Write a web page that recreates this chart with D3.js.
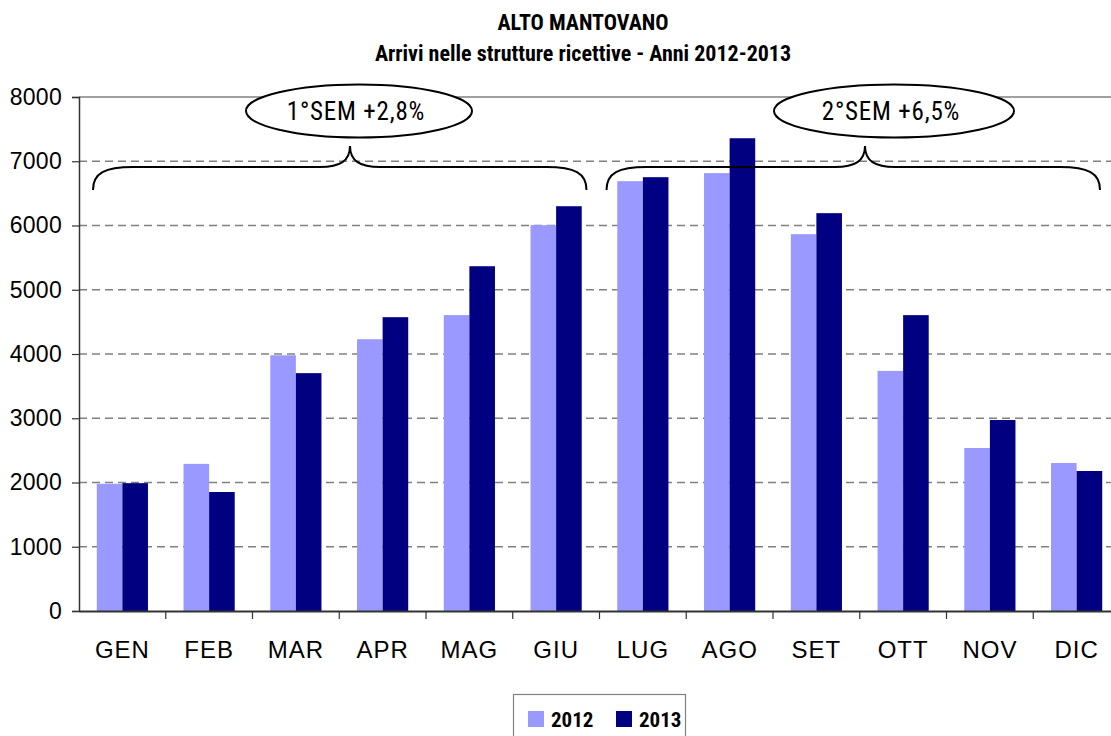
<!DOCTYPE html>
<html><head><meta charset="utf-8">
<script src="https://cdn.jsdelivr.net/npm/d3@7/dist/d3.min.js"></script>
<style>
html,body{margin:0;padding:0;background:#fff;overflow:hidden;}
svg{display:block;font-family:"Liberation Sans Narrow","Arial Narrow","Roboto Condensed","DejaVu Sans Condensed",sans-serif;}
</style></head><body>
<svg id="c" width="1111" height="736"></svg>
<script>
const months = ["GEN","FEB","MAR","APR","MAG","GIU","LUG","AGO","SET","OTT","NOV","DIC"];
const series = ["2012","2013"];
const values2012 = [1980,2290,3980,4230,4605,6005,6690,6815,5865,3737,2537,2303];
const values2013 = [1990,1852,3702,4573,5366,6300,6752,7358,6192,4605,2973,2179];
const yTicks = [0,1000,2000,3000,4000,5000,6000,7000,8000];
const titleLines = ["ALTO MANTOVANO","Arrivi nelle strutture ricettive - Anni 2012-2013"];
const semesters = [
  {label:"1°SEM +2,8%", from:"GEN", to:"GIU"},
  {label:"2°SEM +6,5%", from:"LUG", to:"DIC"}
];
const colors = {"2012":"#9999FF","2013":"#000080"};

const svg = d3.select("#c");
const L = 79, R = 1120, T = 97, B = 611;
const x = d3.scaleBand().domain(months).range([L,R]).paddingInner(0).paddingOuter(0);
const bw = x.bandwidth();
const groupW = bw*0.59;
const xs = d3.scaleBand().domain(series).range([(bw-groupW)/2,(bw+groupW)/2]);
const y = d3.scaleLinear().domain([0,8000]).range([B,T]);

// gridlines
svg.append("g").selectAll("line").data(yTicks.filter(d=>d>0 && d<8000)).join("line")
  .attr("x1",L).attr("x2",R).attr("y1",d=>y(d)).attr("y2",d=>y(d))
  .attr("stroke","#808080").attr("stroke-width",1.5).attr("stroke-dasharray","8,5");
// top border
svg.append("line").attr("x1",L).attr("x2",R).attr("y1",y(8000)).attr("y2",y(8000))
  .attr("stroke","#808080").attr("stroke-width",1.5);

// bars
const data = months.map((m,i)=>({m, v:{"2012":values2012[i],"2013":values2013[i]}}));
const g = svg.append("g").selectAll("g").data(data).join("g")
  .attr("transform",d=>`translate(${x(d.m)},0)`);
g.selectAll("rect").data(d=>series.map(s=>({s,v:d.v[s]}))).join("rect")
  .attr("x",d=>xs(d.s)).attr("width",xs.bandwidth())
  .attr("y",d=>y(d.v)).attr("height",d=>B-y(d.v))
  .attr("fill",d=>colors[d.s]);

// y axis
const yAxis = d3.axisLeft(y).tickValues(yTicks).tickSize(7).tickPadding(10).tickFormat(d3.format("d"));
const ya = svg.append("g").attr("transform",`translate(${L},0)`).call(yAxis);
ya.select(".domain").attr("stroke","#333").attr("stroke-width",1.5);
ya.selectAll(".tick line").attr("stroke","#333").attr("stroke-width",1.2);
ya.selectAll("text").attr("font-size",23).attr("fill","#000").attr("font-family","inherit").attr("letter-spacing","0.3");

// x axis
const xa = svg.append("g").attr("transform",`translate(0,${B})`)
  .call(d3.axisBottom(x).tickSize(0).tickPadding(0));
xa.select(".domain").attr("stroke","#333").attr("stroke-width",2);
xa.selectAll(".tick text").attr("font-size",24).attr("fill","#000").attr("font-family","inherit")
  .attr("letter-spacing","1").attr("dy",0).attr("y",47);
svg.append("g").selectAll("line").data(months).join("line")
  .attr("x1",d=>x(d)+bw).attr("x2",d=>x(d)+bw).attr("y1",B).attr("y2",B+8)
  .attr("stroke","#333").attr("stroke-width",1.2);

// title
svg.append("g").selectAll("text").data(titleLines).join("text")
  .attr("x",583).attr("y",(d,i)=>i===0?30:61).attr("text-anchor","middle")
  .attr("font-size",22).attr("font-weight","bold").text(d=>d);

// semester annotations
semesters.forEach((s,i)=>{
  const x0 = i===0 ? x(s.from)+14 : x(s.from)+7;
  const x1 = i===0 ? x(s.to)+bw-13 : x(s.to)+bw-20;
  const xm = i===0 ? 350 : 865;
  const cx = i===0 ? 359 : 894;
  const rx = i===0 ? 113 : 120;
  const yb = 190, yf = 167, ya2 = 146;
  const p = `M${x0},${yb} C${x0},${yf+6} ${x0+12},${yf} ${x0+40},${yf} L${xm-30},${yf} C${xm-10},${yf} ${xm},${yf-6} ${xm},${ya2} C${xm},${yf-6} ${xm+10},${yf} ${xm+30},${yf} L${x1-40},${yf} C${x1-12},${yf} ${x1},${yf+6} ${x1},${yb}`;
  svg.append("path").attr("d",p).attr("fill","none").attr("stroke","#000").attr("stroke-width",2);
  svg.append("ellipse").attr("cx",cx).attr("cy",111).attr("rx",rx).attr("ry",26.5)
    .attr("fill","#fff").attr("stroke","#000").attr("stroke-width",2);
  svg.append("text").attr("x",cx-3).attr("y",120).attr("text-anchor","middle")
    .attr("font-size",25).attr("letter-spacing","0.8").text(s.label);
});

// legend
const lg = svg.append("g");
lg.append("rect").attr("x",513.5).attr("y",694.5).attr("width",172).attr("height",50)
  .attr("fill","#fff").attr("stroke","#808080").attr("stroke-width",1.2);
const lx = [528,616];
series.forEach((s,i)=>{
  lg.append("rect").attr("x",lx[i]).attr("y",711).attr("width",16).attr("height",16).attr("fill",colors[s]);
  lg.append("text").attr("x",lx[i]+23).attr("y",727).attr("font-size",21).attr("font-weight","bold").text(s);
});
</script>
</body></html>
